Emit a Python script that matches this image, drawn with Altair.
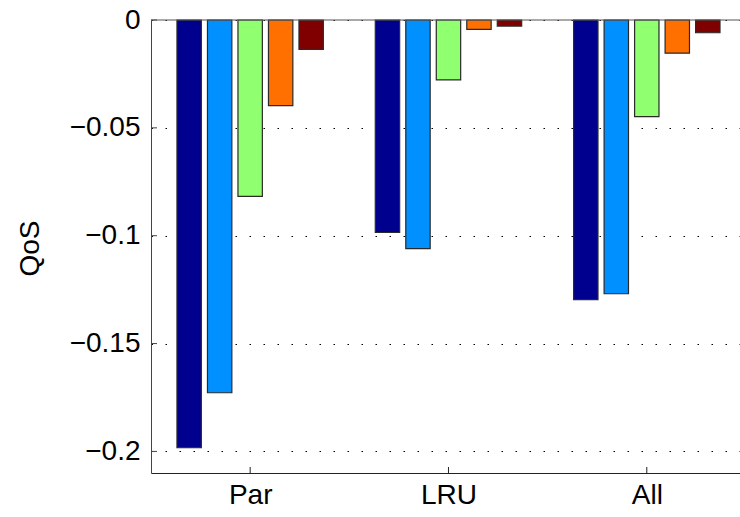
import json
import altair as alt
import pandas as pd

# Groups along the x axis and the five bar series drawn in each group
groups = ["Par", "LRU", "All"]
series = ["s1", "s2", "s3", "s4", "s5"]
colors = ["#00008F", "#0090FF", "#90FF70", "#FF7000", "#800000"]

s1 = [-0.1983, -0.0985, -0.1296]
s2 = [-0.1728, -0.1060, -0.1269]
s3 = [-0.0818, -0.0278, -0.0448]
s4 = [-0.0397, -0.0043, -0.0154]
s5 = [-0.0136, -0.0028, -0.0059]

y_ticks = [0, -0.05, -0.1, -0.15, -0.2]

rows = []
for si, vals in enumerate([s1, s2, s3, s4, s5]):
    for gi, v in enumerate(vals):
        rows.append({"group": groups[gi], "gi": gi + 1, "series": series[si], "si": si, "value": v})
df = pd.DataFrame(rows)

W, H = 589, 453
STEP = 0.1538   # spacing between bars inside a group (x units)
HALF = 0.0615   # half bar width (x units)
FS = 28

xscale = alt.Scale(domain=[0.5, 3.47], nice=False, zero=False)
yscale = alt.Scale(domain=[-0.21, 0], nice=False, zero=False)

x_label_expr = json.dumps(groups) + "[datum.value - 1]"
# typographic minus sign on the value labels
y_label_expr = "replace(format(datum.value, '.2~f'), '-', '\u2212')"

bars = alt.Chart(df).transform_calculate(
    xa=f"datum.gi + (datum.si - 2) * {STEP} - {HALF}",
    xb=f"datum.gi + (datum.si - 2) * {STEP} + {HALF}",
).mark_bar(stroke="#2a2a2a", strokeWidth=1.2).encode(
    x=alt.X("xa:Q", scale=xscale, axis=alt.Axis(
        values=[1, 2, 3], labelExpr=x_label_expr, title=None, grid=False,
        tickSize=0, labelPadding=8, labelFontSize=FS, labelColor="#000000",
        domainColor="#222222", labelFont="Liberation Sans")),
    x2="xb:Q",
    y=alt.Y("value:Q", scale=yscale, axis=alt.Axis(
        values=y_ticks, labelExpr=y_label_expr, title="QoS", grid=True,
        gridColor="#000000", gridDash=[1.5, 12.5], gridWidth=1,
        tickSize=0, labelPadding=11, labelFontSize=FS, labelColor="#000000",
        labelFont="Liberation Sans", domainColor="#444444",
        titleFontSize=FS, titleFontWeight="normal", titleFont="Liberation Sans",
        titleColor="#000000", titleAngle=-90, titleAlign="center",
        titleBaseline="middle", titleX=-121, titleY=228)),
    y2=alt.datum(0),
    color=alt.Color("series:N", scale=alt.Scale(domain=series, range=colors), legend=None),
)

# Inward tick marks on the left and bottom axes
yt = alt.Chart(pd.DataFrame({"v": y_ticks})).mark_rule(color="#444444").encode(
    y=alt.Y("v:Q", scale=yscale, axis=None),
    x=alt.value(0), x2=alt.value(6),
)
xt = alt.Chart(pd.DataFrame({"g": [1, 2, 3]})).mark_rule(color="#222222").encode(
    x=alt.X("g:Q", scale=xscale, axis=None),
    y=alt.value(H), y2=alt.value(H - 6),
)
# Upper frame line
top = alt.Chart(pd.DataFrame({"g": [0]})).mark_rule(color="#555555").encode(
    x=alt.value(0), x2=alt.value(W), y=alt.value(0),
)

chart = alt.layer(bars, yt, xt, top).resolve_axis(
    x="independent", y="independent"
).properties(
    width=W, height=H,
    autosize="none",
    padding={"left": 151, "top": 20, "right": 0, "bottom": 44},
).configure(font="Liberation Sans").configure_view(stroke=None)

chart.save("out.html", embed_options={"renderer": "svg", "actions": False})
